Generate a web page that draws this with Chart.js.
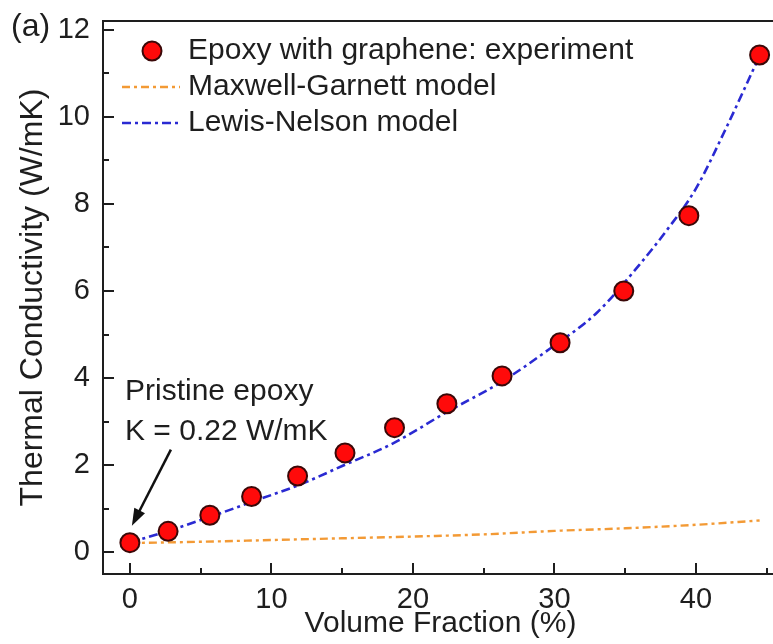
<!DOCTYPE html>
<html>
<head>
<meta charset="utf-8">
<script src="https://cdn.jsdelivr.net/npm/chart.js@4.4.1/dist/chart.umd.min.js"></script>
<style>
    html, body { margin: 0; padding: 0; background: #fff; overflow: hidden; }
    #wrap { position: relative; width: 773px; height: 644px; overflow: hidden; }
    #thermal_chart { position: absolute; left: 0; top: 0; }
</style>
</head>
<body>
<div id="wrap"><canvas id="thermal_chart" width="780" height="644"></canvas></div>
<script>
// axis ticks
var xTicks = [0, 10, 20, 30, 40];
var yTicks = [0, 2, 4, 6, 8, 10, 12];

// experiment (volume fraction %, W/mK)
var expFraction = [0, 2.7, 5.65, 8.6, 11.85, 15.2, 18.7, 22.4, 26.3, 30.4, 34.9, 39.5, 44.5];
var expConductivity = [0.22, 0.48, 0.85, 1.28, 1.75, 2.28, 2.86, 3.41, 4.05, 4.81, 6.0, 7.73, 11.42];

// Maxwell-Garnett model
var mgFraction = [0, 5, 10, 15, 20, 25, 30, 35, 40, 44.5];
var mgConductivity = [0.21, 0.24, 0.28, 0.32, 0.36, 0.41, 0.49, 0.55, 0.63, 0.73];

// Lewis-Nelson model
var lnFraction = [0, 3, 6, 9, 12, 15, 18.6, 22.4, 26.3, 29.7, 33, 36, 38, 40, 42, 44.5];
var lnConductivity = [0.22, 0.52, 0.85, 1.2, 1.55, 1.98, 2.5, 3.22, 3.92, 4.68, 5.5, 6.6, 7.42, 8.35, 9.65, 11.4];

var textColor = '#1e1e1e';
var fontFamily = '"Liberation Sans", Arial, Helvetica, sans-serif';

function toPoints(xs, ys) {
    return xs.map(function(v, i) { return {x: v, y: ys[i]}; });
}

// little pictures for the legend markers
function legendCircle() {
    var c = document.createElement('canvas');
    c.width = 80; c.height = 26;
    var g = c.getContext('2d');
    g.beginPath();
    g.arc(51, 13, 9.5, 0, Math.PI * 2);
    g.fillStyle = '#ff0a0a';
    g.fill();
    g.lineWidth = 2;
    g.strokeStyle = '#3a0808';
    g.stroke();
    return c;
}
function legendLine(color, dash, width) {
    var c = document.createElement('canvas');
    c.width = 80; c.height = 8;
    var g = c.getContext('2d');
    g.setLineDash(dash);
    g.strokeStyle = color;
    g.lineWidth = width;
    g.beginPath();
    g.moveTo(21, 4);
    g.lineTo(79, 4);
    g.stroke();
    return c;
}

function noPadding(s) {
    s.paddingLeft = 0; s.paddingRight = 0; s.paddingTop = 0; s.paddingBottom = 0;
}

// frame box + inward ticks
var frameTicks = {
    id: 'frameTicks',
    beforeDatasetsDraw: function(chart) {
        var ctx = chart.ctx, a = chart.chartArea, x = chart.scales.x, y = chart.scales.y;
        ctx.save();
        ctx.strokeStyle = textColor;
        ctx.lineWidth = 2;
        ctx.strokeRect(a.left, a.top, a.right - a.left, a.bottom - a.top);
        ctx.beginPath();
        xTicks.forEach(function(v) {
            var p = Math.round(x.getPixelForValue(v));
            ctx.moveTo(p, a.bottom); ctx.lineTo(p, a.bottom - 11);
            var m = Math.round(x.getPixelForValue(v + 5));
            ctx.moveTo(m, a.bottom); ctx.lineTo(m, a.bottom - 6);
        });
        yTicks.forEach(function(v) {
            var p = Math.round(y.getPixelForValue(v));
            ctx.moveTo(a.left, p); ctx.lineTo(a.left + 11, p);
            if (v < 12) {
                var m = Math.round(y.getPixelForValue(v + 1));
                ctx.moveTo(a.left, m); ctx.lineTo(a.left + 6, m);
            }
        });
        ctx.stroke();
        ctx.restore();
    }
};

// "(a)" and the pristine epoxy note with its arrow
var notes = {
    id: 'notes',
    afterDraw: function(chart) {
        var ctx = chart.ctx;
        var px = chart.scales.x.getPixelForValue(expFraction[0]);
        var py = chart.scales.y.getPixelForValue(expConductivity[0]);
        ctx.save();
        ctx.fillStyle = textColor;
        ctx.textBaseline = 'alphabetic';
        ctx.font = '32px ' + fontFamily;
        ctx.fillText('(a)', 11, 36);
        ctx.font = '30px ' + fontFamily;
        ctx.fillText('Pristine epoxy', 125, 400);
        ctx.fillText('K = 0.22 W/mK', 125, 440);

        var tx = px + 2, ty = py - 17;
        var sx = px + 41, sy = py - 93;
        var ang = Math.atan2(ty - sy, tx - sx);
        ctx.strokeStyle = '#111';
        ctx.lineWidth = 2.5;
        ctx.beginPath();
        ctx.moveTo(sx, sy);
        ctx.lineTo(tx - Math.cos(ang) * 12, ty - Math.sin(ang) * 12);
        ctx.stroke();
        ctx.fillStyle = '#111';
        ctx.beginPath();
        ctx.moveTo(tx, ty);
        ctx.lineTo(tx - Math.cos(ang) * 17 + Math.sin(ang) * 6, ty - Math.sin(ang) * 17 - Math.cos(ang) * 6);
        ctx.lineTo(tx - Math.cos(ang) * 17 - Math.sin(ang) * 6, ty - Math.sin(ang) * 17 + Math.cos(ang) * 6);
        ctx.closePath();
        ctx.fill();
        ctx.restore();
    }
};

document.addEventListener("DOMContentLoaded", function() {
    Chart.defaults.font.family = fontFamily;
    Chart.defaults.color = textColor;

    var markerImgs = [
        legendCircle(),
        legendLine('#f39a35', [8, 4, 3, 4], 2.4),
        legendLine('#2a2ad2', [9, 4, 3, 4], 2.6)
    ];

    var ctx = document.getElementById('thermal_chart').getContext('2d');
    var chart = new Chart(ctx, {
        type: 'scatter',
        data: {
            datasets: [{
                label: 'Epoxy with graphene: experiment',
                data: toPoints(expFraction, expConductivity),
                pointRadius: 9.5,
                pointHoverRadius: 9.5,
                pointBackgroundColor: '#ff0a0a',
                pointBorderColor: '#3a0808',
                pointBorderWidth: 2,
                showLine: false
            }, {
                label: 'Maxwell-Garnett model',
                data: toPoints(mgFraction, mgConductivity),
                showLine: true,
                pointRadius: 0,
                borderColor: '#f39a35',
                borderWidth: 2.4,
                borderDash: [8, 4, 3, 4],
                cubicInterpolationMode: 'monotone'
            }, {
                label: 'Lewis-Nelson model',
                data: toPoints(lnFraction, lnConductivity),
                showLine: true,
                pointRadius: 0,
                borderColor: '#2a2ad2',
                borderWidth: 2.6,
                borderDash: [9, 4, 3, 4],
                cubicInterpolationMode: 'monotone'
            }]
        },
        options: {
            responsive: false,
            animation: false,
            devicePixelRatio: 1,
            layout: { autoPadding: false, padding: { top: 21, right: 2, left: 0, bottom: 0 } },
            scales: {
                x: {
                    type: 'linear',
                    min: -1.9,
                    max: 45.8,
                    afterBuildTicks: function(s) { s.ticks = xTicks.map(function(v) { return {value: v}; }); },
                    afterFit: function(s) { s.height = 70; noPadding(s); },
                    grid: { display: false, drawTicks: false },
                    border: { display: false },
                    ticks: { padding: 9, autoSkip: false, maxRotation: 0, font: { size: 29 }, color: textColor },
                    title: { display: true, text: 'Volume Fraction (%)', font: { size: 30 }, color: textColor, padding: { top: 0, bottom: 2 } }
                },
                y: {
                    type: 'linear',
                    min: -0.5,
                    max: 12.2,
                    afterBuildTicks: function(s) { s.ticks = yTicks.map(function(v) { return {value: v}; }); },
                    afterFit: function(s) { s.width = 103; noPadding(s); },
                    grid: { display: false, drawTicks: false },
                    border: { display: false },
                    ticks: { padding: 13, autoSkip: false, font: { size: 29 }, color: textColor },
                    title: { display: true, text: 'Thermal Conductivity (W/mK)', font: { size: 32 }, color: textColor, padding: { top: 14, bottom: 0 } }
                }
            },
            plugins: {
                tooltip: { enabled: false },
                legend: {
                    position: 'chartArea',
                    align: 'start',
                    title: { display: true, text: '', font: { size: 1 }, padding: { top: 0, bottom: 28.8 } },
                    labels: {
                        usePointStyle: true,
                        pointStyleWidth: 64,
                        padding: 6,
                        font: { size: 30 },
                        color: textColor,
                        generateLabels: function(chart) {
                            return chart.data.datasets.map(function(ds, i) {
                                return {
                                    text: ds.label,
                                    pointStyle: markerImgs[i],
                                    fillStyle: 'rgba(0,0,0,0)',
                                    strokeStyle: 'rgba(0,0,0,0)',
                                    lineWidth: 0,
                                    fontColor: textColor,
                                    hidden: false,
                                    datasetIndex: i
                                };
                            });
                        }
                    }
                }
            }
        },
        plugins: [frameTicks, notes]
    });
});
</script>
</body>
</html>
